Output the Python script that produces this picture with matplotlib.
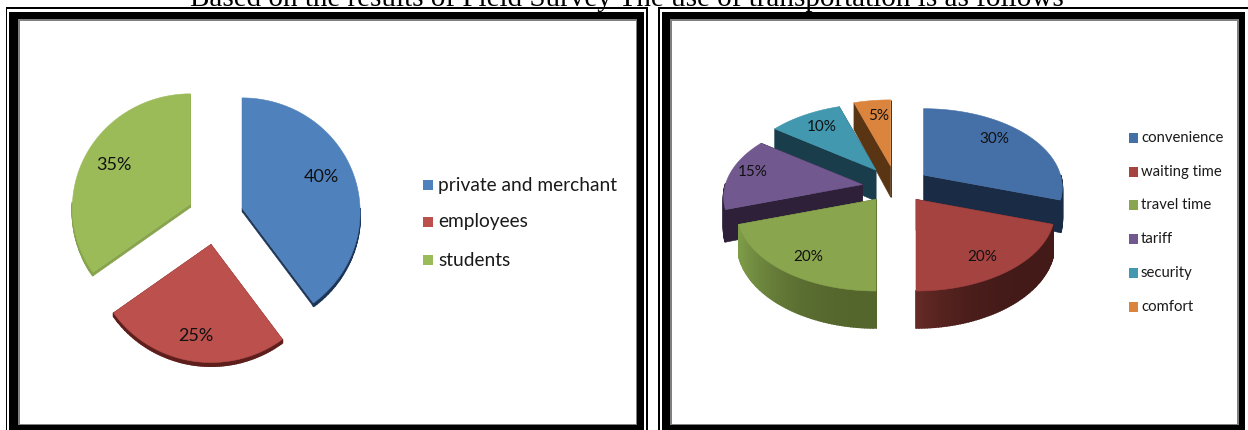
#!/usr/bin/env python3
"""Two exploded pseudo-3D pies from the field survey, each in a framed panel."""

import math

import matplotlib

matplotlib.use("Agg")
import matplotlib.pyplot as plt
from matplotlib.patches import Polygon, Rectangle

WIDTH = 1248
HEIGHT = 430

TITLE = "Based on the results of Field Survey The use of transportation is as follows"

user_categories = ["private and merchant", "employees", "students"]
user_shares = [40, 25, 35]

factor_categories = ["convenience", "waiting time", "travel time", "tariff", "security", "comfort"]
factor_shares = [30, 20, 20, 15, 10, 5]

user_colors = ["#4f81bd", "#bb504d", "#9bbb59"]
user_side_colors = ["#1d3557", "#5e1f1c", "#87a34d"]
factor_colors = ["#4570a7", "#a54341", "#89a54e", "#71588f", "#4198af", "#db843d"]
factor_side_colors = ["#1a2c45", "#431a18", "#55662d", "#2d2038", "#1a3d4b", "#5a3514"]

user_label_px = [(321, 177), (196, 336), (114, 165)]
factor_label_px = [(994, 139), (982, 257), (808, 257), (753, 172), (822, 127), (879, 116)]


def rim_offset(theta, shape):
    # clockwise from 12 o'clock, front of the disc nearer the viewer
    u, v = math.sin(theta), -math.cos(theta)
    scale = 1.0 / (1.0 - shape["persp"] * v)
    return shape["rx"] * u * scale, shape["ry"] * v * scale, shape["depth"] * scale


def blend(color_a, color_b, t):
    a = matplotlib.colors.to_rgb(color_a)
    b = matplotlib.colors.to_rgb(color_b)
    return tuple(p + (q - p) * t for p, q in zip(a, b))


def add_poly(ax, points, color, zorder, linewidth=0.4):
    ax.add_patch(Polygon(points, closed=True, facecolor=color, edgecolor=color,
                         linewidth=linewidth, zorder=zorder))


def draw_wedge(ax, low, high, color, side, wall_light, shape, zorder):
    mid = math.radians((low + high) / 2)
    pull_y = shape["pull_back"] if math.cos(mid) > 0 else shape["pull_front"]
    ax_x = shape["cx"] + shape["pull_x"] * math.sin(mid)
    ax_y = shape["cy"] - pull_y * math.cos(mid)
    steps = max(int(high - low), 2)
    angles = [math.radians(low + (high - low) * i / steps) for i in range(steps + 1)]
    rim = [rim_offset(a, shape) for a in angles]
    left = min(r[0] for r in rim)
    right = max(r[0] for r in rim)

    # radial faces first, then the outer wall, then the top
    for dx, dy, depth in (rim[0], rim[-1]):
        add_poly(ax, [
            (ax_x, ax_y), (ax_x + dx, ax_y + dy),
            (ax_x + dx, ax_y + dy + depth), (ax_x, ax_y + shape["depth"]),
        ], side, zorder)
    for i in range(steps):
        # the back half of the wall sits behind the top face
        if math.cos(angles[i]) > 0 and math.cos(angles[i + 1]) > 0:
            continue
        x0, y0, d0 = rim[i]
        x1, y1, d1 = rim[i + 1]
        # the wall gets lighter towards the left of each slice
        t = (right - (x0 + x1) / 2) / (right - left)
        add_poly(ax, [
            (ax_x + x0, ax_y + y0), (ax_x + x1, ax_y + y1),
            (ax_x + x1, ax_y + y1 + d1), (ax_x + x0, ax_y + y0 + d0),
        ], blend(side, wall_light, t ** 3), zorder + 0.1, linewidth=1.2)
    top = [(ax_x, ax_y)] + [(ax_x + x, ax_y + y) for x, y, _ in rim]
    add_poly(ax, top, color, zorder + 0.2)


def draw_pie(ax, shares, colors, sides, lights, labels_px, shape, order, label_size):
    bounds = []
    start = 0.0
    for share in shares:
        bounds.append((start, start + 3.6 * share))
        start += 3.6 * share
    for rank, idx in enumerate(order):
        low, high = bounds[idx]
        draw_wedge(ax, low, high, colors[idx], sides[idx], lights[idx], shape, 10 + rank)
    for share, (x, y) in zip(shares, labels_px):
        ax.text(x, y, f"{share}%", ha="center", va="center", fontsize=label_size,
                family="Lato", color="#111111", zorder=40)


def draw_legend(ax, categories, colors, box_x, box_size, text_x, rows, font_size):
    for name, color, y in zip(categories, colors, rows):
        ax.add_patch(Rectangle((box_x, y - box_size / 2), box_size, box_size,
                               facecolor=color, edgecolor="none", zorder=5))
        ax.text(text_x, y, name, ha="left", va="center", fontsize=font_size,
                family="Lato", color="#1a1a1a", zorder=5)


def draw_frame(ax, thin, thick, inner_y):
    # nested rectangles: thin rule, white gap, heavy border, grey hairline, white panel
    x0, x1 = thin
    ax.add_patch(Rectangle((x0, 7), x1 - x0, 440, facecolor="black", edgecolor="none", zorder=1))
    ax.add_patch(Rectangle((x0 + 1.5, 8.5), x1 - x0 - 3, 440, facecolor="white", edgecolor="none", zorder=1.1))
    t0, t1 = thick
    ax.add_patch(Rectangle((t0, 11.5), t1 - t0, 440, facecolor="black", edgecolor="none", zorder=1.2))
    i0, i1 = inner_y
    ax.add_patch(Rectangle((i0, 19), i1 - i0, 406, facecolor="#808080", edgecolor="none", zorder=1.3))
    ax.add_patch(Rectangle((i0 + 1.5, 20.5), i1 - i0 - 3, 403, facecolor="white", edgecolor="none", zorder=1.4))


def main():
    fig = plt.figure(figsize=(WIDTH / 100, HEIGHT / 100), dpi=100)
    ax = fig.add_axes([0, 0, 1, 1])
    ax.set_xlim(0, WIDTH)
    ax.set_ylim(HEIGHT, 0)
    ax.axis("off")

    draw_frame(ax, (5.5, 647.5), (9, 643.5), (18, 637))
    draw_frame(ax, (658, 1249), (661.5, 1244.5), (670, 1238.5))

    ax.text(626.5, 6, TITLE, ha="center", va="baseline", fontsize=21,
            family="Liberation Serif", color="black", zorder=50)

    user_shape = {"cx": 215.4, "cy": 216.7, "rx": 118, "ry": 114, "persp": 0.035,
                  "depth": 3.5, "pull_x": 28, "pull_back": 28, "pull_front": 28}
    draw_pie(ax, user_shares, user_colors, user_side_colors, user_side_colors,
             user_label_px, user_shape, [0, 2, 1], 13)
    draw_legend(ax, user_categories, user_colors, 422.5, 10.5, 438, [185, 222, 260], 13.8)

    factor_shape = {"cx": 896, "cy": 188, "rx": 137, "ry": 77, "persp": 0.16,
                    "depth": 31, "pull_x": 34, "pull_back": 22, "pull_front": 14}
    factor_lights = ["#1a2c45", "#662a25", "#7d9c48", "#2d2038", "#1a3d4b", "#5a3514"]
    draw_pie(ax, factor_shares, factor_colors, factor_side_colors, factor_lights,
             factor_label_px, factor_shape, [5, 4, 0, 3, 1, 2], 11)
    draw_legend(ax, factor_categories, factor_colors, 1128.5, 9.5, 1141,
                [138, 172, 205, 239, 273, 307], 10.7)

    fig.savefig("out.png", dpi=100, facecolor="white")
    plt.close(fig)


if __name__ == "__main__":
    main()
